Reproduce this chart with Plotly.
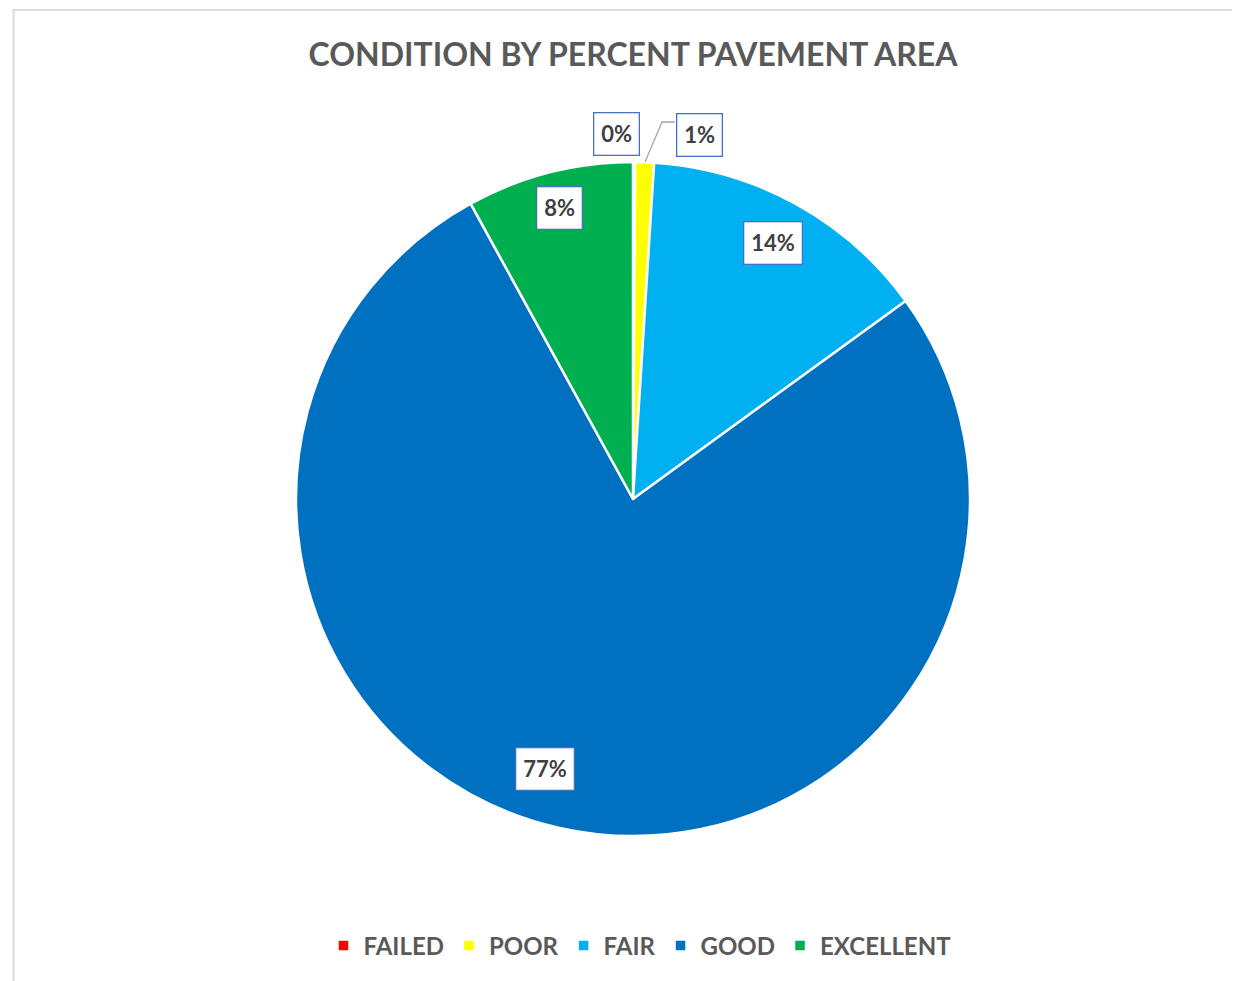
import plotly.graph_objects as go

categories = ["FAILED", "POOR", "FAIR", "GOOD", "EXCELLENT"]
values = [0.1, 0.9, 14.0, 77.0, 8.0]
colors = ["#FF0000", "#FFFF00", "#00B0F0", "#0070C0", "#00B050"]
label_px = [(616, 134), (699, 135), (773, 243), (545, 769), (559, 208)]

# page body has an 8px margin; size the figure to the visible area
OFF = 8
W, H = 1240 - OFF, 981 - OFF


def px(x):
    return (x - OFF) / W


def py(y):
    return 1 - (y - OFF) / H


cx, cy, R = 633, 499, 337

fig = go.Figure(go.Pie(
    labels=categories, values=values, sort=False, direction="clockwise",
    rotation=0, marker=dict(colors=colors, line=dict(color="white", width=2.5)),
    textinfo="none", hoverinfo="label+percent",
    domain=dict(x=[px(cx - R), px(cx + R)], y=[py(cy + R), py(cy - R)]),
))

total = sum(values)
annotations = []
for v, (lx, ly) in zip(values, label_px):
    annotations.append(dict(
        x=px(lx), y=py(ly), xref="paper", yref="paper", xanchor="center", yanchor="middle",
        text=f"<b>{round(100 * v / total):.0f}%</b>", showarrow=False,
        font=dict(family="Lato", size=22, color="#404040"),
        bgcolor="white", bordercolor="#4472C4", borderwidth=1.3, borderpad=7,
    ))

shapes = [
    dict(type="line", xref="paper", yref="paper", x0=px(13.5), x1=px(13.5), y0=0, y1=py(10),
         line=dict(color="#D9D9D9", width=2)),
    dict(type="line", xref="paper", yref="paper", x0=px(13), x1=1, y0=py(10), y1=py(10),
         line=dict(color="#D9D9D9", width=2)),
    dict(type="path", xref="paper", yref="paper",
         path=f"M {px(645)} {py(162)} L {px(662)} {py(122)} L {px(675)} {py(122)}",
         line=dict(color="#A6A6A6", width=1.3)),
]

fig.update_layout(
    width=W, height=H, margin=dict(l=0, r=0, t=0, b=0),
    paper_bgcolor="white", plot_bgcolor="white",
    title=dict(text="<b>CONDITION BY PERCENT PAVEMENT AREA</b>", x=px(633), xanchor="center",
               y=py(55), yanchor="middle",
               font=dict(family="Lato", size=32, color="#595959")),
    legend=dict(orientation="h", x=px(640), xanchor="center", y=py(946), yanchor="middle",
                font=dict(family="Lato", size=24, color="#595959"), itemwidth=30),
    annotations=annotations, shapes=shapes,
)
fig.update_traces(labels=[f"<b>{c}</b>" for c in categories])

fig.write_html("out.html")
